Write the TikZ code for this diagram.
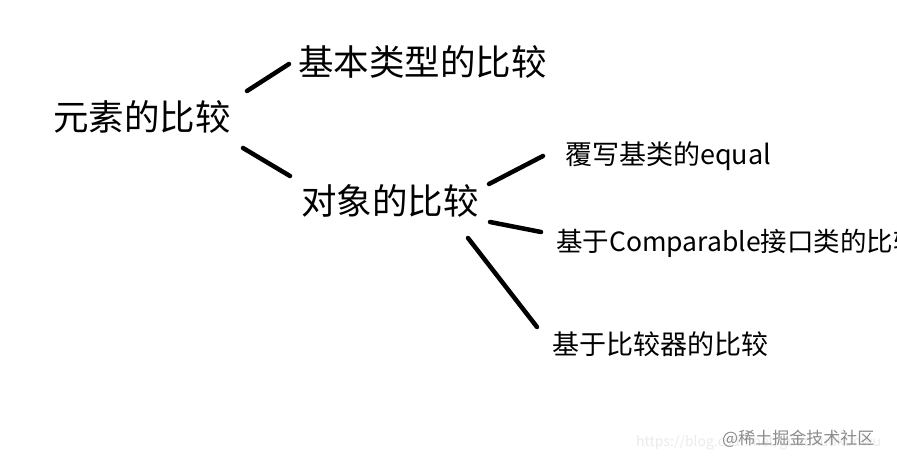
\documentclass[tikz,border=0pt]{standalone}
\usepackage{fontspec}
\setmainfont{Noto Sans CJK SC}
\begin{document}
\begin{tikzpicture}[x=1pt,y=-1pt,
  big/.style={anchor=west,inner sep=0pt,font=\fontsize{35.5}{38}\selectfont},
  small/.style={anchor=west,inner sep=0pt,font=\fontsize{27}{30}\selectfont},
  wm/.style={anchor=west,inner sep=0pt,font=\fontsize{17}{20}\selectfont},
  url/.style={anchor=west,inner sep=0pt,font=\fontsize{14}{16}\selectfont},
  link/.style={line width=4.5pt,line cap=round}]
\useasboundingbox[fill=white] (0,0) rectangle (897,465);
\node[big] (root) at (53,117) {元素的比较};
\node[big] (basic) at (298,62) {基本类型的比较};
\node[big] (obj) at (301,201) {对象的比较};
\node[small] (eq) at (565,156) {覆写基类的equal};
\node[small,font=\fontsize{26.5}{30}\selectfont] (cmp) at (556,243) {基于Comparable接口类的比较};
\node[small] (cmpr) at (552,344) {基于比较器的比较};
\node[url,text=black!8] (url) at (636,443) {https://blog.csdn.net/guankunkunwu};
\node[wm,text=black!45] (site) at (722,439) {@稀土掘金技术社区};
\coordinate (a1) at (247,91); \coordinate (a2) at (289,64);
\coordinate (b1) at (243,148); \coordinate (b2) at (290,176);
\coordinate (c1) at (489,184); \coordinate (c2) at (543,156);
\coordinate (d1) at (490,222); \coordinate (d2) at (541,232);
\coordinate (e1) at (468,238); \coordinate (e2) at (537,327);
\draw[link] (a1) -- (a2);
\draw[link] (b1) -- (b2);
\draw[link] (c1) -- (c2);
\draw[link] (d1) -- (d2);
\draw[link] (e1) -- (e2);
\end{tikzpicture}
\end{document}
